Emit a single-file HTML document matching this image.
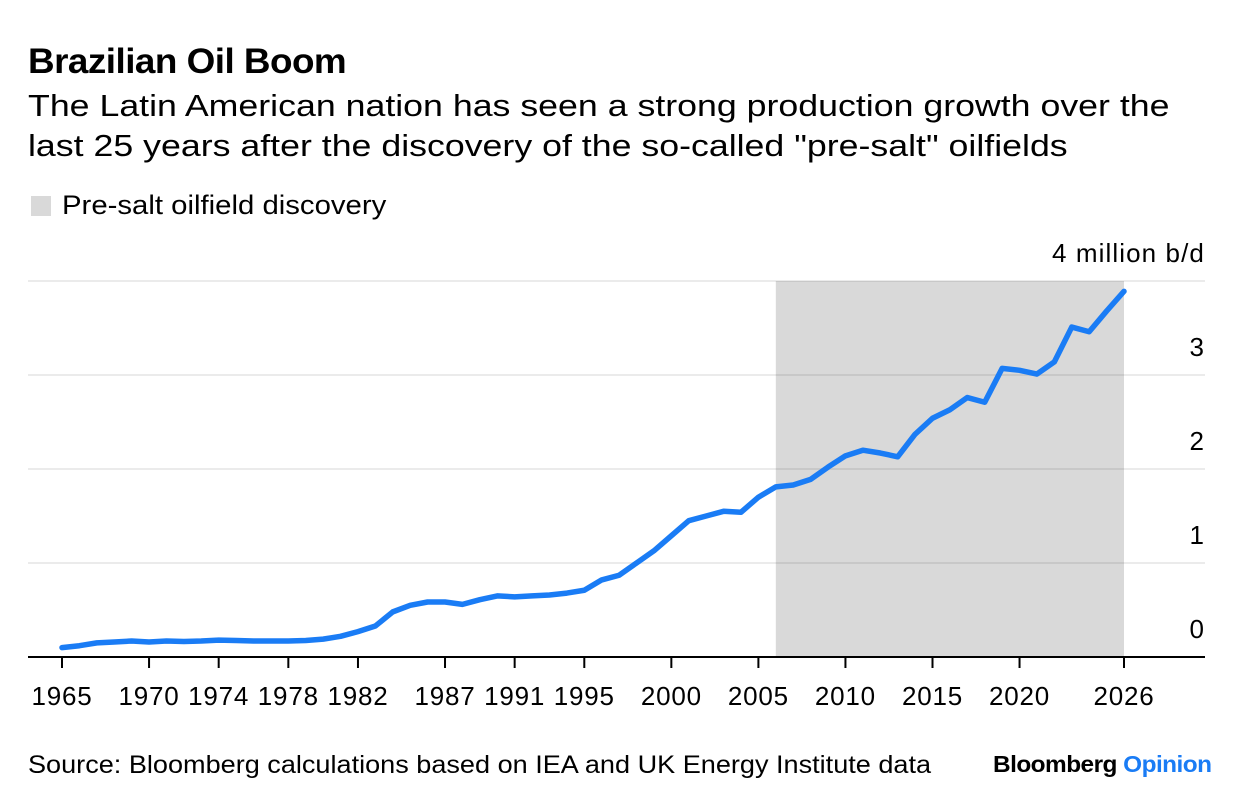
<!DOCTYPE html>
<html><head><meta charset="utf-8"><style>
body{margin:0;background:#fff;font-family:"Liberation Sans",Arial,sans-serif;color:#000}
#wrap{position:relative;width:1240px;height:808px;overflow:hidden}
.t{position:absolute;white-space:nowrap;transform-origin:0 0}
</style></head><body>
<div id="wrap">
<div class="t" style="left:28px;top:42px;font-size:35px;font-weight:bold;letter-spacing:-0.5px;transform:scaleX(1.053)">Brazilian Oil Boom</div>
<div class="t" style="left:28px;top:86px;font-size:31px;line-height:40px;transform:scaleX(1.152)">The Latin American nation has seen a strong production growth over the<br>last 25 years after the discovery of the so-called "pre-salt" oilfields</div>
<div style="position:absolute;left:31px;top:196px;width:20px;height:20px;background:#d9d9d9"></div>
<div class="t" style="left:62px;top:190px;font-size:27px;transform:scaleX(1.086)">Pre-salt oilfield discovery</div>
<svg id="chart" width="1240" height="808" style="position:absolute;left:0;top:0"></svg>
<div class="t" style="left:28px;top:751px;font-size:25px;transform:scaleX(1.083)">Source: Bloomberg calculations based on IEA and UK Energy Institute data</div>
<div class="t" style="left:993px;top:751px;font-size:23px;font-weight:bold;letter-spacing:-0.5px;transform:scaleX(1.06)">Bloomberg <span style="color:#1a7cf5">Opinion</span></div>
</div>
<script>
const years=[1965,1966,1967,1968,1969,1970,1971,1972,1973,1974,1975,1976,1977,1978,1979,1980,1981,1982,1983,1984,1985,1986,1987,1988,1989,1990,1991,1992,1993,1994,1995,1996,1997,1998,1999,2000,2001,2002,2003,2004,2005,2006,2007,2008,2009,2010,2011,2012,2013,2014,2015,2016,2017,2018,2019,2020,2021,2022,2023,2024,2025,2026];
const production=[0.10,0.12,0.15,0.16,0.17,0.16,0.17,0.165,0.17,0.18,0.175,0.17,0.17,0.17,0.175,0.19,0.22,0.27,0.33,0.48,0.55,0.585,0.585,0.56,0.61,0.65,0.64,0.65,0.66,0.68,0.71,0.82,0.87,1.0,1.13,1.29,1.45,1.50,1.55,1.54,1.70,1.81,1.83,1.89,2.02,2.14,2.20,2.17,2.13,2.37,2.54,2.63,2.76,2.71,3.07,3.05,3.01,3.14,3.51,3.46,3.68,3.89];
const xTickYears=[1965,1970,1974,1978,1982,1987,1991,1995,2000,2005,2010,2015,2020,2026];
const yTicks=[0,1,2,3,4];
const shadeRange=[2006,2026];
const NS='http://www.w3.org/2000/svg';
const svg=document.getElementById('chart');
const x=y=>62+(y-1965)*(1124-62)/(2026-1965);
const yS=v=>657-v*94;
function mk(tag,a){const e=document.createElementNS(NS,tag);for(const k in a)e.setAttribute(k,a[k]);svg.appendChild(e);return e;}
const sh=mk('rect',{x:x(shadeRange[0]),y:yS(4),width:x(shadeRange[1])-x(shadeRange[0]),height:yS(0)-yS(4),fill:'#d9d9d9'});


yTicks.forEach(v=>{
 if(v>0){const g=mk('line',{x1:28,x2:1205,y1:yS(v),y2:yS(v),stroke:'#000','stroke-opacity':0.08,'stroke-width':2});
 
 }
 const t=mk('text',{x:1205,y:yS(v)-19,'text-anchor':'end','font-size':26,'letter-spacing':1.1,'font-family':'Liberation Sans,sans-serif'});
 t.textContent=v===4?'4 million b/d':String(v);
 
 
});
const ax=mk('line',{x1:28,x2:1205,y1:657,y2:657,stroke:'#000','stroke-width':2});


xTickYears.forEach(yr=>{
 const tk=mk('line',{x1:x(yr),x2:x(yr),y1:657,y2:668,stroke:'#000','stroke-width':2});
 
 
 const t=mk('text',{x:x(yr),y:705,'text-anchor':'middle','font-size':26,'letter-spacing':0.8,'font-family':'Liberation Sans,sans-serif'});
 t.textContent=yr;
 
 
});
const p=mk('polyline',{points:years.map((yr,i)=>x(yr)+','+yS(production[i])).join(' '),fill:'none',stroke:'#1a7cf5','stroke-width':5.5,'stroke-linejoin':'round','stroke-linecap':'round'});


</script>
</body></html>
